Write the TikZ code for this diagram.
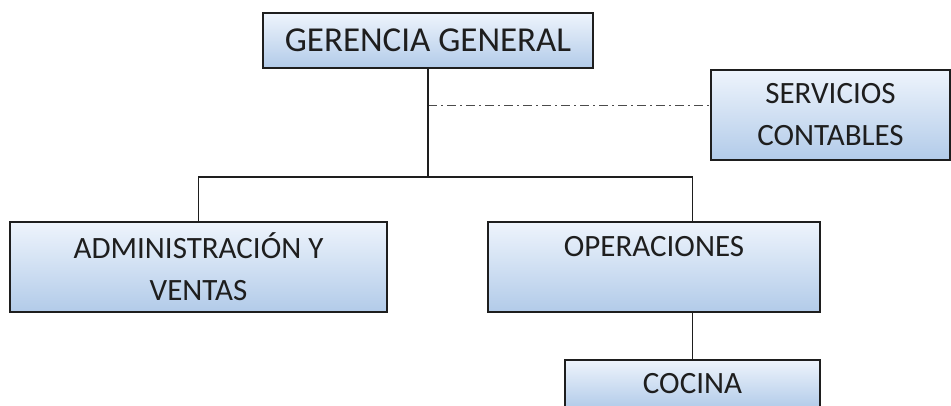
\documentclass[tikz,border=0pt]{standalone}
\usepackage{fontspec}
\setmainfont{Carlito}
\usepackage{tikz}
\usetikzlibrary{positioning}
\definecolor{boxtop}{RGB}{238,244,252}
\definecolor{boxbot}{RGB}{178,203,233}
\definecolor{ink}{RGB}{30,30,30}

\begin{document}
\begin{tikzpicture}
	[x=1pt, y=-1pt, inner sep=0pt,
	unit/.style	= {rectangle, draw=ink, line width=1.7pt, top color=boxtop, bottom color=boxbot, text=ink, align=center, font=\fontsize{31}{42}\selectfont},
	head/.style	= {unit, font=\fontsize{35}{42}\selectfont},
	links/.style	= {draw=ink, line width=1.8pt},
	advice/.style	= {draw=ink!80, line width=1.4pt, dash pattern=on 9pt off 4pt on 2pt off 4pt}]
	
	\useasboundingbox (0, 0) rectangle (951, 405);
	\clip (0, 0) rectangle (951, 405);
	
	\node at (428, 40.5)	[head, minimum width=330pt, minimum height=55pt]	(gg)	{GERENCIA GENERAL};
	\node at (830.5, 115)	[unit, minimum width=239pt, minimum height=90pt]	(sc)	{SERVICIOS\\CONTABLES};
	\node at (198.5, 267)	[unit, minimum width=377pt, minimum height=90pt]	(av)	{ADMINISTRACIÓN Y\\VENTAS};
	\node at (654, 267)		[unit, minimum width=332pt, minimum height=90pt]	(op)	{OPERACIONES\\\mbox{}};
	\node at (692.5, 384)	[unit, minimum width=255pt, minimum height=48pt]	(co)	{COCINA};
	
	\coordinate (tee)	at (428, 105.5);
	\coordinate (bus)	at (428, 177);
	\coordinate (opin)	at (692.5, 222);
	
	\draw [advice] (tee) -- (tee -| sc.west);
	\draw [links] (gg.south) -- (bus);
	\draw [links] (av.north) |- (opin |- bus) -- (opin);
	\draw [links] (co.north |- op.south) -- (co.north);
	
\end{tikzpicture}
\end{document}
